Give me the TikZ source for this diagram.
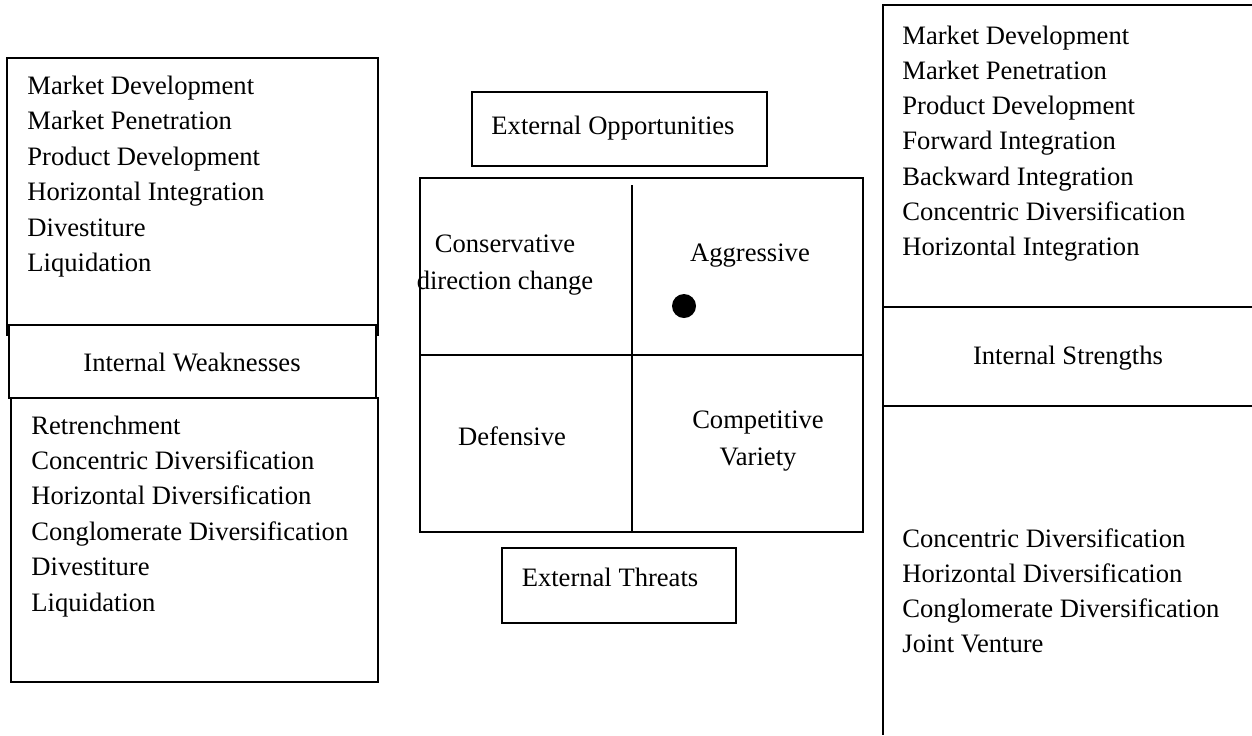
\documentclass[tikz,border=0pt]{standalone}
\usepackage{fontspec}
\setmainfont{Liberation Serif}

\tikzset{
  box/.style={draw, line width=1.2pt},
  item/.style={anchor=base west, inner sep=0pt, font=\fontsize{13.3}{17.75}\selectfont},
  label/.style={align=center, inner sep=0pt, font=\fontsize{13.3}{18.5}\selectfont}
}

\begin{document}
\begin{tikzpicture}[x=0.5pt, y=-0.5pt]
		\useasboundingbox (0, 0) rectangle (1252, 735);
		% left side: weaknesses
		\draw[box] (7, 58) rectangle (378, 335);
		\draw[box, fill=white] (9, 325) rectangle (376, 398);
		\draw[box] (11, 398) rectangle (378, 682);
		\foreach \txt [count=\i] in {Market Development, Market Penetration, Product Development, Horizontal Integration, Divestiture, Liquidation}
			\node[item] (wtop\i) at (27, {94+35.5*(\i-1)}) {\txt};
		\node[label] (weak) at (192, 362) {Internal Weaknesses};
		\foreach \txt [count=\i] in {Retrenchment, Concentric Diversification, Horizontal Diversification, Conglomerate Diversification, Divestiture, Liquidation}
			\node[item] (wbot\i) at (31, {434+35.4*(\i-1)}) {\txt};
		% middle: grid
		\draw[box] (472, 92) rectangle (767, 166);
		\node[label] (opp) at (613, 128) {External Opportunities};
		\draw[box] (420, 178) rectangle (863, 532);
		\draw[box] (632, 185) -- (632, 532);
		\draw[box] (420, 355) -- (863, 355);
		\node[label] (cons) at (505, 265) {Conservative\\direction change};
		\node[label] (aggr) at (750, 256) {Aggressive};
		\node[circle, fill, inner sep=0pt, minimum size=12pt] (dot) at (684, 306) {};
		\node[label] (def) at (512, 436) {Defensive};
		\node[label] (comp) at (758, 441) {Competitive\\Variety};
		\draw[box] (502, 548) rectangle (736, 623);
		\node[label] (thr) at (610, 577) {External Threats};
		% right side: strengths
		\draw[box] (1252, 5) -- (883, 5) -- (883, 735);
		\draw[box] (883, 307) -- (1252, 307);
		\draw[box] (883, 406) -- (1252, 406);
		\foreach \txt [count=\i] in {Market Development, Market Penetration, Product Development, Forward Integration, Backward Integration, Concentric Diversification, Horizontal Integration}
			\node[item] (stop\i) at (902, {44+35.3*(\i-1)}) {\txt};
		\node[label] (str) at (1068, 358) {Internal Strengths};
		\foreach \txt [count=\i] in {Concentric Diversification, Horizontal Diversification, Conglomerate Diversification, Joint Venture}
			\node[item] (sbot\i) at (902, {547+35*(\i-1)}) {\txt};
	\end{tikzpicture}
\end{document}
